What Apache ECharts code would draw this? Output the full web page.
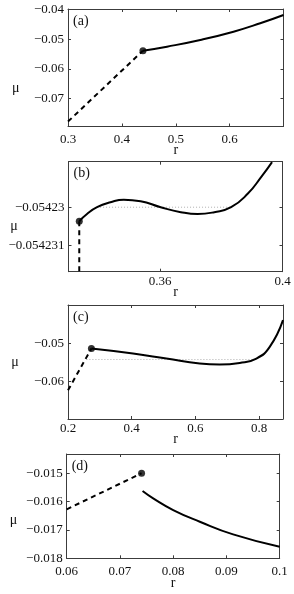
<!DOCTYPE html>
<html><head><meta charset="utf-8">
<script src="https://cdn.jsdelivr.net/npm/echarts@6/dist/echarts.min.js"></script>
<style>html,body{margin:0;padding:0;background:#fff}#c{width:294px;height:594px}</style>
</head><body><div id="c"></div>
<script>
// ---- Panel (a) ----
const aDashR  = [0.3, 0.4391];
const aDashMu = [-0.07774, -0.05384];
const aSolidR  = [0.4391, 0.4837, 0.5455, 0.6072, 0.6568, 0.7];
const aSolidMu = [-0.05384, -0.05249, -0.05024, -0.04744, -0.04461, -0.04182];
const aPoint = [0.4391, -0.05384];
const aXTicks = [0.3, 0.4, 0.5, 0.6];
const aYTicks = [-0.07, -0.06, -0.05, -0.04];
// ---- Panel (b) ----
const bDashR  = [0.33352, 0.33352];
const bDashMu = [-0.05423037, -0.054232];
const bSolidR  = [0.33352, 0.33605, 0.33934, 0.34372, 0.34809, 0.35359, 0.36016, 0.36674, 0.37224, 0.37770, 0.38319, 0.38868, 0.39306, 0.39658];
const bSolidMu = [-0.05423037, -0.05423018, -0.05423000, -0.05422987, -0.05422980, -0.05422984, -0.05423000, -0.05423013, -0.05423018, -0.05423013, -0.05423000, -0.05422964, -0.05422920, -0.05422881];
const bPoint = [0.33352, -0.05423037];
const bLevelR  = [0.33934, 0.38319];
const bLevelMu = [-0.05423, -0.05423];
const bXTicks = [0.36, 0.4];
const bYTicks = [-0.054231, -0.05423];
// ---- Panel (c) ----
const cDashR  = [0.2, 0.2735];
const cDashMu = [-0.06239, -0.05133];
const cSolidR  = [0.2735, 0.4041, 0.5089, 0.6135, 0.6763, 0.7391, 0.7915, 0.8333, 0.875];
const cSolidMu = [-0.05133, -0.05265, -0.05398, -0.05531, -0.05557, -0.05515, -0.05398, -0.05090, -0.04382];
const cPoint = [0.2735, -0.05133];
const cLevelR  = [0.2578, 0.781];
const cLevelMu = [-0.05424, -0.05424];
const cXTicks = [0.2, 0.4, 0.6, 0.8];
const cYTicks = [-0.06, -0.05];
// ---- Panel (d) ----
const dDashR  = [0.06, 0.07406];
const dDashMu = [-0.016272, -0.0150];
const dSolidR  = [0.07425, 0.07624, 0.08, 0.085, 0.09125, 0.1];
const dSolidMu = [-0.015625, -0.015884, -0.016297, -0.016710, -0.017156, -0.017594];
const dPoint = [0.07406, -0.0150];
const dXTicks = [0.06, 0.07, 0.08, 0.09, 0.1];
const dYTicks = [-0.018, -0.017, -0.016, -0.015];

const zip = (xs, ys) => xs.map((x, i) => [x, ys[i]]);
const FONT = '"Liberation Serif","Times New Roman",serif';
const fmt = v => String(+(+v).toPrecision(8)).replace('-', '\u2212');

const panels = [
  {grid:{left:68, top:9, width:215.5, height:117.5}, xr:[0.3,0.7], yr:[-0.0794,-0.0398], xt:aXTicks, yt:aYTicks,
   dash:zip(aDashR,aDashMu), solid:zip(aSolidR,aSolidMu), pt:aPoint, level:null, label:'(a)', xGap:17, muX:15.7, muY:88, lm:7},
  {grid:{left:68.5, top:161.7, width:214, height:110}, xr:[0.33,0.4], yr:[-0.0542317,-0.0542288], xt:bXTicks, yt:bYTicks,
   dash:zip(bDashR,bDashMu), solid:zip(bSolidR,bSolidMu), pt:bPoint, level:zip(bLevelR,bLevelMu), label:'(b)', xGap:14, muX:14, muY:226, lm:3},
  {grid:{left:68, top:305, width:215, height:114}, xr:[0.2,0.875], yr:[-0.07,-0.0398], xt:cXTicks, yt:cYTicks,
   dash:zip(cDashR,cDashMu), solid:zip(cSolidR,cSolidMu), pt:cPoint, level:zip(cLevelR,cLevelMu), label:'(c)', xGap:13, muX:15, muY:362, lm:3},
  {grid:{left:66.7, top:454, width:213, height:104.3}, xr:[0.06,0.1], yr:[-0.018,-0.01432], xt:dXTicks, yt:dYTicks,
   dash:zip(dDashR,dDashMu), solid:zip(dSolidR,dSolidMu), pt:dPoint, level:null, label:'(d)', xGap:18, muX:13.5, muY:520, lm:7}
];

const option = {animation:false, grid:[], xAxis:[], yAxis:[], series:[], graphic:[]};
const lineC = '#3c3c3c';
panels.forEach((p, g) => {
  option.grid.push(Object.assign({containLabel:false, outerBoundsMode:'none'}, p.grid));
  const common = {type:'value', gridIndex:g, splitLine:{show:false}, nameMoveOverlap:false,
    axisLine:{show:true, onZero:false, lineStyle:{color:lineC, width:1}}};
  option.xAxis.push(Object.assign({}, common, {position:'bottom', min:p.xr[0], max:p.xr[1],
    axisTick:{show:true, inside:true, length:3, customValues:p.xt, lineStyle:{color:lineC}},
    axisLabel:{customValues:p.xt, formatter:fmt, margin:p.lm, fontFamily:FONT, fontSize:13, color:'#111'},
    name:'r', nameLocation:'middle', nameGap:p.xGap, nameTextStyle:{fontFamily:FONT, fontSize:14, color:'#111'}}));
  option.xAxis.push(Object.assign({}, common, {position:'top', min:p.xr[0], max:p.xr[1],
    axisTick:{show:true, inside:true, length:3, customValues:p.xt, lineStyle:{color:lineC}},
    axisLabel:{show:false}}));
  option.yAxis.push(Object.assign({}, common, {position:'left', min:p.yr[0], max:p.yr[1],
    axisTick:{show:true, inside:true, length:3, customValues:p.yt, lineStyle:{color:lineC}},
    axisLabel:{customValues:p.yt, formatter:fmt, margin:4, fontFamily:FONT, fontSize:13, color:'#111'}}));
  option.yAxis.push(Object.assign({}, common, {position:'right', min:p.yr[0], max:p.yr[1],
    axisTick:{show:true, inside:true, length:3, customValues:p.yt, lineStyle:{color:lineC}},
    axisLabel:{show:false}}));
  const xi = 2*g, yi = 2*g;
  if (p.level) option.series.push({type:'line', xAxisIndex:xi, yAxisIndex:yi, data:p.level, symbol:'none',
    lineStyle:{color:'#b0b0b0', width:1, type:[1,2]}});
  option.series.push({type:'line', xAxisIndex:xi, yAxisIndex:yi, data:p.dash, symbol:'none', clip:true,
    lineStyle:{color:'#000', width:2, type:[5,4]}});
  option.series.push({type:'line', xAxisIndex:xi, yAxisIndex:yi, data:p.solid, symbol:'none', smooth:true, clip:true,
    lineStyle:{color:'#000', width:2}});
  option.series.push({type:'scatter', xAxisIndex:xi, yAxisIndex:yi, data:[p.pt], symbol:'circle', symbolSize:7,
    itemStyle:{color:'#000'}});
  option.graphic.push({type:'text', left:p.grid.left+5, top:p.grid.top+5,
    style:{text:p.label, font:'14px ' + FONT, fill:'#111'}});
  option.graphic.push({type:'text', x:p.muX, y:p.muY,
    style:{text:'\u03bc', font:'14px ' + FONT, fill:'#111', align:'center', verticalAlign:'middle'}});
});
echarts.init(document.getElementById('c'), null, {renderer:'canvas'}).setOption(option);
</script>
</body></html>
